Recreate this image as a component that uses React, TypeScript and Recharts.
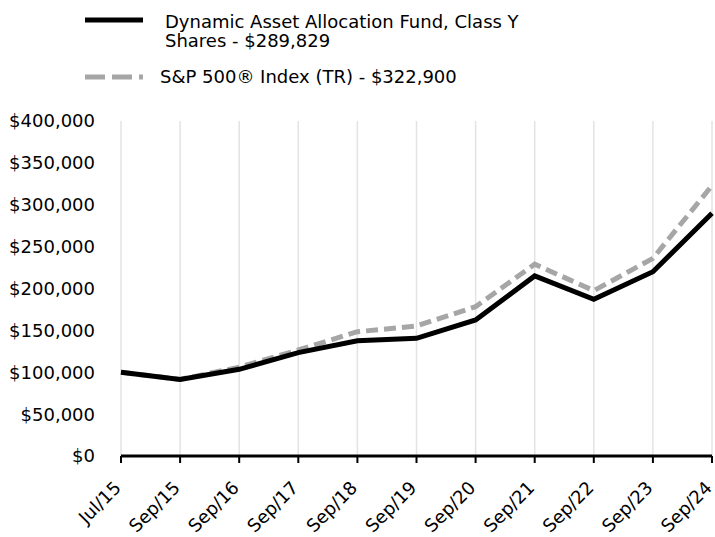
import React from "react";
import { LineChart, Line, XAxis, YAxis, CartesianGrid } from "recharts";

const periodos = ["Jul/15", "Sep/15", "Sep/16", "Sep/17", "Sep/18", "Sep/19", "Sep/20", "Sep/21", "Sep/22", "Sep/23", "Sep/24"];
const fundo = [100000, 91500, 103500, 123400, 137700, 140500, 162400, 215000, 187100, 220000, 289829];
const indice = [100000, 91500, 106000, 126600, 148400, 155200, 178300, 229000, 197400, 236000, 322900];
const yTicks = [0, 50000, 100000, 150000, 200000, 250000, 300000, 350000, 400000];

const nomeFundo = "Dynamic Asset Allocation Fund, Class Y Shares - $289,829";
const nomeIndice = "S&P 500® Index (TR) - $322,900";

const data = periodos.map((p, i) => ({ periodo: p, fundo: fundo[i], indice: indice[i] }));

const FONTE = "'DejaVu Sans', sans-serif";

function dolar(v: number) {
  return "$" + Number(v).toLocaleString("en-US");
}

function RotTick(props: any) {
  const { x, y, payload } = props;
  return (
    <g transform={`translate(${x + 1},${y + 24})`}>
      <text x={0} y={0} textAnchor="end" transform="rotate(-45)" fill="#000" fontSize={18} fontFamily={FONTE}>
        {payload.value}
      </text>
    </g>
  );
}

function Legenda() {
  const txt = { fontFamily: FONTE, fontSize: 18, lineHeight: "19px", color: "#000" };
  return (
    <>
      <div style={{ position: "absolute", left: 85, top: 12, display: "flex", alignItems: "flex-start" }}>
        <svg width={80} height={20}>
          <line x1={0} y1={8} x2={58} y2={8} stroke="#000" strokeWidth={5} />
        </svg>
        <div style={{ ...txt, width: 370 }}>{nomeFundo}</div>
      </div>
      <div style={{ position: "absolute", left: 85, top: 67, display: "flex", alignItems: "flex-start" }}>
        <svg width={75} height={20}>
          <line x1={0} y1={10} x2={58} y2={10} stroke="#a6a6a6" strokeWidth={5} strokeDasharray="20 7" />
        </svg>
        <div style={txt}>{nomeIndice}</div>
      </div>
    </>
  );
}

export default function App() {
  return (
    <div style={{ position: "relative", width: 715, height: 537 }}>
      <style>{"body{margin:0}"}</style>
      <Legenda />
      <LineChart width={715} height={537} data={data} margin={{ top: 121, right: 3, bottom: 0, left: 0 }}>
        <CartesianGrid horizontal={false} stroke="#e3e3e3" strokeWidth={1.5} />
        <XAxis
          dataKey="periodo"
          interval={0}
          tick={<RotTick />}
          tickSize={7}
          tickLine={{ stroke: "#000", strokeWidth: 2 }}
          axisLine={{ stroke: "#000", strokeWidth: 3 }}
          height={81}
        />
        <YAxis
          domain={[0, 400000]}
          ticks={yTicks}
          tickFormatter={dolar}
          axisLine={false}
          tickLine={false}
          tickMargin={20}
          width={121}
          tick={{ fill: "#000", fontSize: 18, fontFamily: FONTE }}
        />
        <Line dataKey="indice" stroke="#a6a6a6" strokeWidth={5} strokeDasharray="12 6" dot={false} isAnimationActive={false} />
        <Line dataKey="fundo" stroke="#000" strokeWidth={5} dot={false} isAnimationActive={false} />
      </LineChart>
    </div>
  );
}
